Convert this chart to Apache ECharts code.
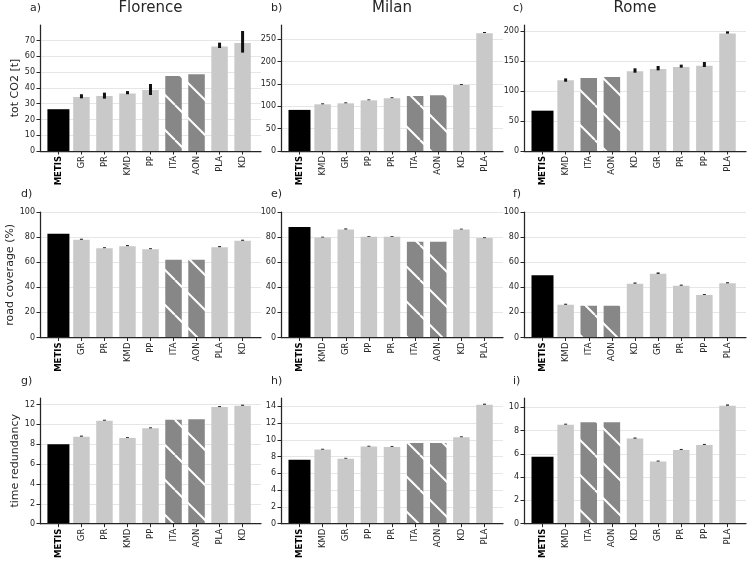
<!DOCTYPE html>
<html>
<head>
<meta charset="utf-8">
<script src="https://cdn.jsdelivr.net/npm/echarts@6/dist/echarts.min.js"></script>
<style>
  html, body { margin: 0; padding: 0; background: #fff; }
  #chart { width: 747px; height: 561px; }
</style>
</head>
<body>
<div id="chart"></div>
<script>
// categories (order differs per city)
const catsFlorence = ['METIS', 'GR', 'PR', 'KMD', 'PP', 'ITA', 'AON', 'PLA', 'KD']
const catsMilan = ['METIS', 'KMD', 'GR', 'PP', 'PR', 'ITA', 'AON', 'KD', 'PLA']
const catsRome = ['METIS', 'KMD', 'ITA', 'AON', 'KD', 'GR', 'PR', 'PP', 'PLA']
const hatchedCats = ['ITA', 'AON']

// tot CO2 [t]
const co2Florence = [26.5, 34.2, 34.9, 36.4, 38.7, 47.6, 48.6, 66.2, 68.5]
const co2FlorenceLo = [null, 33.4, 33.2, 36.0, 35.5, null, null, 65.3, 62.4]
const co2FlorenceHi = [null, 36.0, 37.0, 38.0, 42.5, null, null, 68.7, 76.1]
const co2Milan = [92, 104.5, 106.7, 113.4, 118, 123, 124.6, 147.8, 263.4]
const co2MilanLo = [null, 104.6, 106.8, 113.6, 118.2, null, null, 148.0, 264.2]
const co2MilanHi = [null, 106.6, 108.8, 115.4, 120.2, null, null, 150.0, 266.4]
const co2Rome = [67.2, 117.8, 121.7, 123.3, 132.8, 136.7, 140.0, 142.2, 196.0]
const co2RomeLo = [null, 115.5, null, null, 130.5, 134.4, 138.9, 140.0, 195.6]
const co2RomeHi = [null, 121.0, null, null, 137.8, 141.7, 143.9, 148.3, 199.4]

// road coverage (%)
const covFlorence = [82.7, 77.9, 71.2, 72.8, 70.4, 61.9, 61.9, 72.0, 77.1]
const covFlorenceLo = [null, 77.9, 71.2, 72.8, 70.4, null, null, 72.0, 77.1]
const covFlorenceHi = [null, 78.7, 71.9, 73.6, 71.1, null, null, 72.8, 77.9]
const covMilan = [88.0, 79.7, 86.1, 80.3, 80.3, 76.3, 76.3, 86.1, 79.2]
const covMilanLo = [null, 79.7, 86.1, 80.3, 80.3, null, null, 86.1, 79.2]
const covMilanHi = [null, 80.3, 86.9, 80.9, 80.9, null, null, 86.7, 79.8]
const covRome = [49.6, 26.1, 25.3, 25.3, 42.9, 50.7, 41.3, 33.9, 43.2]
const covRomeLo = [null, 26.1, null, null, 42.9, 50.7, 41.3, 33.9, 43.2]
const covRomeHi = [null, 26.9, null, null, 43.8, 51.8, 42.1, 34.6, 44.0]

// time redundancy
const redFlorence = [8.0, 8.76, 10.37, 8.63, 9.6, 10.47, 10.5, 11.74, 11.87]
const redFlorenceLo = [null, 8.76, 10.37, 8.63, 9.6, null, null, 11.74, 11.87]
const redFlorenceHi = [null, 8.86, 10.46, 8.71, 9.69, null, null, 11.83, 11.97]
const redMilan = [7.64, 8.84, 7.76, 9.2, 9.16, 9.64, 9.64, 10.32, 14.2]
const redMilanLo = [null, 8.84, 7.76, 9.2, 9.16, null, null, 10.32, 14.2]
const redMilanHi = [null, 8.94, 7.86, 9.3, 9.26, null, null, 10.42, 14.32]
const redRome = [5.74, 8.51, 8.71, 8.71, 7.31, 5.34, 6.34, 6.77, 10.14]
const redRomeLo = [null, 8.51, null, null, 7.31, 5.34, 6.34, 6.77, 10.14]
const redRomeHi = [null, 8.59, null, null, 7.4, 5.42, 6.42, 6.85, 10.24]

// y tick labels
const ticksCo2Florence = [0, 10, 20, 30, 40, 50, 60, 70]
const ticksCo2Milan = [0, 50, 100, 150, 200, 250]
const ticksCo2Rome = [0, 50, 100, 150, 200]
const ticksCoverage = [0, 20, 40, 60, 80, 100]
const ticksRedFlorence = [0, 2, 4, 6, 8, 10, 12]
const ticksRedMilan = [0, 2, 4, 6, 8, 10, 12, 14]
const ticksRedRome = [0, 2, 4, 6, 8, 10]

const cityNames = ['Florence', 'Milan', 'Rome']
const metricNames = ['tot CO2 [t]', 'road coverage (%)', 'time redundancy']
const panelLetters = ['a)', 'b)', 'c)', 'd)', 'e)', 'f)', 'g)', 'h)', 'i)']

const panels = [
  { cats: catsFlorence, vals: co2Florence, lo: co2FlorenceLo, hi: co2FlorenceHi, ticks: ticksCo2Florence, max: 79.9 },
  { cats: catsMilan, vals: co2Milan, lo: co2MilanLo, hi: co2MilanHi, ticks: ticksCo2Milan, max: 282 },
  { cats: catsRome, vals: co2Rome, lo: co2RomeLo, hi: co2RomeHi, ticks: ticksCo2Rome, max: 210 },
  { cats: catsFlorence, vals: covFlorence, lo: covFlorenceLo, hi: covFlorenceHi, ticks: ticksCoverage, max: 100 },
  { cats: catsMilan, vals: covMilan, lo: covMilanLo, hi: covMilanHi, ticks: ticksCoverage, max: 100 },
  { cats: catsRome, vals: covRome, lo: covRomeLo, hi: covRomeHi, ticks: ticksCoverage, max: 100 },
  { cats: catsFlorence, vals: redFlorence, lo: redFlorenceLo, hi: redFlorenceHi, ticks: ticksRedFlorence, max: 12.65 },
  { cats: catsMilan, vals: redMilan, lo: redMilanLo, hi: redMilanHi, ticks: ticksRedMilan, max: 15.0 },
  { cats: catsRome, vals: redRome, lo: redRomeLo, hi: redRomeHi, ticks: ticksRedRome, max: 10.8 }
]

const FONT = 'DejaVu Sans'
const INK = '#262626'
const colLeft = [40, 281, 524]
const colWidth = [221, 222, 222]
const rowTop = [25, 212, 398]
const rowHeight = [126, 125.5, 126]
const nameGaps = [15, 18, 19]
const letterX = [[30, 271, 513], [21, 271, 513], [21, 271, 513]]
const letterY = [8, 194, 381]

// hatch pattern (white "\" lines on dark grey)
const hatch = (function () {
  const c = document.createElement('canvas')
  c.width = 35
  c.height = 35
  const ctx = c.getContext('2d')
  ctx.fillStyle = '#878787'
  ctx.fillRect(0, 0, 35, 35)
  ctx.strokeStyle = '#ffffff'
  ctx.lineWidth = 2
  for (const k of [-35, 0, 35]) {
    ctx.beginPath()
    ctx.moveTo(k, 0)
    ctx.lineTo(k + 35, 35)
    ctx.stroke()
  }
  return c
})()

function makeRenderItem(p) {
  return function (params, api) {
    const i = params.dataIndex
    const name = p.cats[i]
    const top = api.coord([i, api.value(1)])
    const base = api.coord([i, 0])
    const w = name === 'METIS' ? 22 : 16.5
    let fill = '#c9c9c9'
    if (name === 'METIS') fill = '#000000'
    else if (hatchedCats.indexOf(name) >= 0) fill = { image: hatch, repeat: 'repeat' }
    const children = [{
      type: 'rect',
      shape: { x: top[0] - w / 2, y: top[1], width: w, height: base[1] - top[1] },
      style: { fill: fill }
    }]
    if (p.lo[i] != null) {
      const a = api.coord([i, p.lo[i]])
      const b = api.coord([i, p.hi[i]])
      children.push({
        type: 'line',
        shape: { x1: a[0], y1: a[1], x2: b[0], y2: b[1] },
        style: { stroke: '#111111', lineWidth: 3 }
      })
    }
    return { type: 'group', children: children }
  }
}

const grids = [], xAxes = [], yAxes = [], series = [], graphics = []
panels.forEach(function (p, k) {
  const row = Math.floor(k / 3), col = k % 3
  grids.push({ left: colLeft[col], top: rowTop[row], width: colWidth[col], height: rowHeight[row] })
  const idx = p.cats.map(function (c, i) { return i })
  xAxes.push({
    gridIndex: k,
    type: 'value',
    min: -0.8,
    max: 8.8,
    z: 5,
    axisLine: { show: true, onZero: false, lineStyle: { color: INK, width: 1.25 } },
    axisTick: { show: true, customValues: idx, length: 3.5, lineStyle: { color: INK, width: 1 } },
    axisLabel: {
      customValues: idx,
      rotate: 90,
      margin: 5,
      fontSize: 8.5,
      fontFamily: FONT,
      color: INK,
      formatter: function (v) { return v === 0 ? '{b|' + p.cats[0] + '}' : p.cats[v] },
      rich: { b: { fontWeight: 'bold', fontSize: 8.5, fontFamily: FONT, color: '#000' } }
    },
    splitLine: { show: false }
  })
  yAxes.push({
    gridIndex: k,
    type: 'value',
    min: 0,
    max: p.max,
    name: col === 0 ? metricNames[row] : '',
    nameLocation: 'middle',
    nameGap: nameGaps[row],
    nameTextStyle: { fontSize: 11, fontFamily: FONT, color: INK },
    axisLine: { show: true, onZero: false, lineStyle: { color: INK, width: 1.25 } },
    axisTick: { show: true, customValues: p.ticks, length: 3.5, lineStyle: { color: INK, width: 1 } },
    axisLabel: { customValues: p.ticks, margin: 5, fontSize: 8, fontFamily: FONT, color: INK },
    splitLine: { show: true, lineStyle: { color: '#e6e6e6', width: 1 } }
  })
  series.push({
    type: 'custom',
    xAxisIndex: k,
    yAxisIndex: k,
    renderItem: makeRenderItem(p),
    encode: { x: 0, y: 1 },
    data: p.vals.map(function (v, i) { return [i, v] })
  })
  graphics.push({
    type: 'text',
    x: letterX[row][col],
    y: letterY[row],
    style: { text: panelLetters[k], fontSize: 11, fontFamily: FONT, fill: INK, verticalAlign: 'middle' }
  })
})
cityNames.forEach(function (c, col) {
  graphics.push({
    type: 'text',
    x: colLeft[col] + colWidth[col] / 2,
    y: 8,
    style: { text: c, fontSize: 15, fontFamily: FONT, fill: INK, align: 'center', verticalAlign: 'middle' }
  })
})

const chart = echarts.init(document.getElementById('chart'), null, { renderer: 'canvas' })
chart.setOption({
  animation: false,
  backgroundColor: '#ffffff',
  grid: grids,
  xAxis: xAxes,
  yAxis: yAxes,
  series: series,
  graphic: graphics
})
</script>
</body>
</html>
